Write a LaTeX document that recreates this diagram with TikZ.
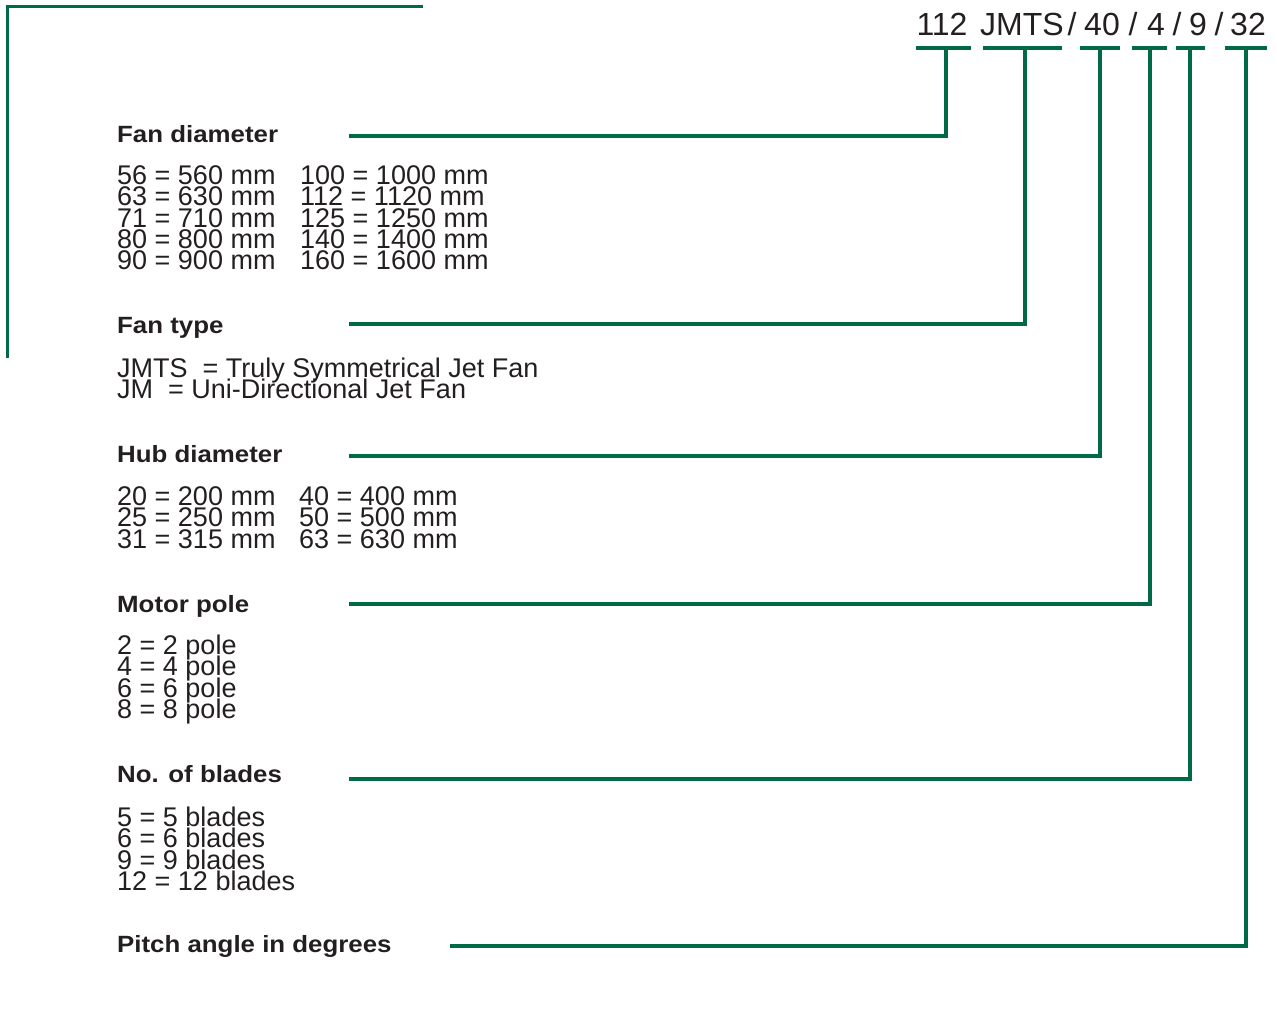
\documentclass[tikz,border=0pt]{standalone}
\usepackage{fontspec}
\setmainfont{Liberation Sans}
\newfontfamily\headfont[FakeStretch=1.1]{Liberation Sans}
\usepackage{xcolor}
\usepackage{tikz}
\usetikzlibrary{positioning,calc}
\definecolor{jetG}{RGB}{0,106,72}
\definecolor{txtK}{RGB}{35,31,32}
\newcommand\firststrut{\rule{0pt}{22pt}}
\newcommand\tightlines{\lineskiplimit=-30pt\relax}

\begin{document}
\begin{tikzpicture}[
  x=1pt, y=-1pt,
  code/.style={anchor=base, inner sep=0pt, text=txtK, font=\fontsize{32}{32}\selectfont},
  head/.style={anchor=base west, inner sep=0pt, text=txtK, font=\headfont\bfseries\fontsize{23.5}{23.5}\selectfont},
  body/.style={anchor=north west, inner sep=0pt, align=left, text=txtK,
    font={\fontsize{27}{21.4}\selectfont\tightlines}},
  lead/.style={draw=jetG, line width=4pt},
  frame/.style={draw=jetG, line width=3pt}
]
\useasboundingbox (0,0) rectangle (1277,1026);
% corner frame
\draw[frame] (7,358) -- (7,6) -- (423,6);

% type code
\node[code] (p1) at (942,35) {112};
\node[code] (p2) at (1022,35) {JMTS};
\node[code] (s1) at (1072,35) {/};
\node[code] (p3) at (1102,35) {40};
\node[code] (s2) at (1133,35) {/};
\node[code] (p4) at (1156,35) {4};
\node[code] (s3) at (1177,35) {/};
\node[code] (p5) at (1198,35) {9};
\node[code] (s4) at (1219,35) {/};
\node[code] (p6) at (1248,35) {32};

% underlines and stems
\foreach \n/\xa/\xb/\xs in {1/916/971/946, 2/983/1062/1025, 3/1080/1120/1100,
                            4/1132/1167/1150, 5/1176/1205/1190, 6/1225/1267/1246}{
  \draw[lead] (\xa,48) -- (\xb,48);
  \coordinate (t\n) at (\xs,48);
}

% headings
\node[head] (h1) at (117,142) {Fan diameter};
\node[head] (h2) at (117,333) {Fan type};
\node[head] (h3) at (117,462) {Hub diameter};
\node[head] (h4) at (117,612) {Motor pole};
\node[head] (h5) at (117,782) {No. of blades};
\node[head] (h6) at (117,952) {Pitch angle in degrees};

\coordinate (l1) at (349,136);
\coordinate (l2) at (349,324);
\coordinate (l3) at (349,456);
\coordinate (l4) at (349,604);
\coordinate (l5) at (349,779);
\coordinate (l6) at (450,946);
\foreach \n in {1,...,6}
  \draw[lead] (l\n) -| (t\n);

% value lists (first baseline = top + 22)
\node[body] (fd1) at (117,162) {\firststrut 56 = 560 mm\\63 = 630 mm\\71 = 710 mm\\80 = 800 mm\\90 = 900 mm};
\node[body] (fd2) at (300,162) {\firststrut 100 = 1000 mm\\112 = 1120 mm\\125 = 1250 mm\\140 = 1400 mm\\160 = 1600 mm};
\node[body] (ft) at (117,355) {\firststrut JMTS\ \ = Truly Symmetrical Jet Fan\\JM\ \ = Uni-Directional Jet Fan};
\node[body] (hd1) at (117,483) {\firststrut 20 = 200 mm\\25 = 250 mm\\31 = 315 mm};
\node[body] (hd2) at (299,483) {\firststrut 40 = 400 mm\\50 = 500 mm\\63 = 630 mm};
\node[body] (mp) at (117,632) {\firststrut 2 = 2 pole\\4 = 4 pole\\6 = 6 pole\\8 = 8 pole};
\node[body] (nb) at (117,804) {\firststrut 5 = 5 blades\\6 = 6 blades\\9 = 9 blades\\12 = 12 blades};
\end{tikzpicture}
\end{document}
